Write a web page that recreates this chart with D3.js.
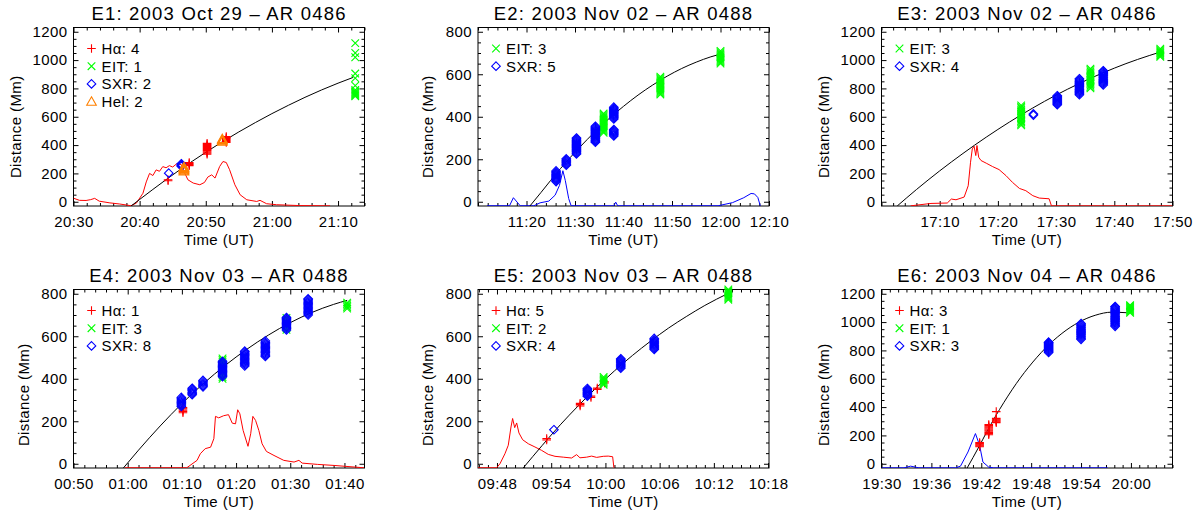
<!DOCTYPE html>
<html>
<head>
<meta charset="utf-8">
<script src="https://cdn.jsdelivr.net/npm/d3@7"></script>
<style>
  html, body { margin: 0; padding: 0; background: #fff; }
  svg text { font-family: "Liberation Sans", Arial, sans-serif; fill: #000; }
  .title { font-size: 18.5px; letter-spacing: 1.2px; }
  .tick text { font-size: 15px; letter-spacing: 0.4px; }
  .axis-title { font-size: 15px; letter-spacing: 0.4px; }
  .legend text { font-size: 15px; letter-spacing: 0.4px; }
</style>
</head>
<body>
<svg id="chart" width="1197" height="514"></svg>
<script>
// ---------- E1 ----------
const e1Title = "E1: 2003 Oct 29 – AR 0486";
const e1XRange = ["20:30", "21:14"];
const e1YRange = [-30, 1230];
const e1Ticks = ["20:30", "20:40", "20:50", "21:00", "21:10"];
const e1Fit = [["20:38.7", -30], ["20:40", 16], ["20:42", 87], ["20:44", 156], ["20:46", 223], ["20:48", 287],
  ["20:50", 349], ["20:52.5", 423], ["20:55", 493], ["20:57.5", 559], ["21:00", 622], ["21:02.5", 681],
  ["21:05", 737], ["21:07.5", 789], ["21:10", 837], ["21:12.3", 878]];
const e1Flux = [["20:30.0", 25], ["20:30.9", 10], ["20:31.9", 9], ["20:32.6", 15], ["20:33.2", 24], ["20:33.9", 4],
  ["20:35.5", -8], ["20:37.0", -16], ["20:38.7", -28], ["20:39.5", -10], ["20:40.5", 60], ["20:41.0", 140],
  ["20:41.5", 200], ["20:42.0", 185], ["20:42.5", 225], ["20:43.0", 215], ["20:43.5", 248], ["20:44.0", 240],
  ["20:44.5", 255], ["20:45.0", 245], ["20:45.6", 268], ["20:46.3", 262], ["20:46.7", 214], ["20:47.3", 155],
  ["20:48.1", 132], ["20:49.1", 120], ["20:49.8", 136], ["20:50.3", 174], ["20:50.9", 190], ["20:51.4", 167],
  ["20:52.1", 249], ["20:52.6", 284], ["20:53.1", 277], ["20:53.6", 226], ["20:54.4", 120], ["20:55.2", 49],
  ["20:56.2", 14], ["20:57.7", 2], ["20:58.2", 10], ["20:59.2", -14], ["21:00.7", -21], ["21:04.2", -27],
  ["21:08.8", -29]];
const e1Halpha = [["20:44.3", [148, 155]], ["20:47.5", [255, 262, 269, 276]],
  ["20:50.2", [335, 342, 349, 356, 363, 370, 377, 384, 391, 398, 405, 412]],
  ["20:53.1", [418, 425, 432, 439, 446, 453, 460]]];
const e1Eit = [["21:12.6", [745, 752, 759, 766, 773, 780, 790, 820, 873, 905, 1020, 1050, 1120]]];
const e1Sxr = [["20:44.4", [202]], ["20:46.3", [250, 256, 262, 268]]];
const e1Hel = [["20:46.7", [215, 221, 227, 233, 239, 245]], ["20:52.5", [425, 431, 437, 443]]];

// ---------- E2 ----------
const e2Title = "E2: 2003 Nov 02 – AR 0488";
const e2XRange = ["11:10", "12:10"];
const e2YRange = [-20, 820];
const e2Ticks = ["11:20", "11:30", "11:40", "11:50", "12:00", "12:10"];
const e2Fit = [["11:20.7", -20], ["11:23", 44], ["11:25", 101], ["11:27", 156], ["11:29", 208], ["11:31", 257],
  ["11:34", 327], ["11:37", 391], ["11:40", 449], ["11:43", 502], ["11:46", 549], ["11:49", 591],
  ["11:52", 627], ["11:55", 657], ["11:58", 682], ["12:00", 695]];
const e2Flux = [["11:11.9", -19], ["11:16.5", -19], ["11:17.3", 19], ["11:18.7", -19], ["11:21.5", -19],
  ["11:22.8", -5], ["11:24.6", 3], ["11:25.9", 31], ["11:26.8", 77], ["11:27.5", 146], ["11:28.0", 100],
  ["11:28.7", 15], ["11:29.2", -19], ["11:38.0", -19], ["11:38.4", -2], ["11:38.8", -19], ["11:59.5", -19],
  ["12:02.5", -4], ["12:04.8", 19], ["12:06.3", 39], ["12:07.0", 37], ["12:07.7", 20], ["12:08.2", -19]];
const e2Eit = [
  ["11:35.9", [325, 331, 337, 343, 349, 355, 361, 367, 373, 379, 385, 391, 397, 403, 409, 415]],
  ["11:47.6", [505, 511, 517, 523, 529, 535, 541, 547, 553, 559, 565, 571, 577, 583, 589]],
  ["12:00.0", [650, 656, 662, 668, 674, 680, 686, 692, 698, 704, 710]]];
const e2Sxr = [
  ["11:26.1", [95, 100, 105, 110, 115, 120, 125, 130, 135, 140, 145]],
  ["11:28.2", [172, 177, 182, 187, 192, 197, 202]],
  ["11:30.3", [225, 230, 235, 240, 245, 250, 255, 260, 265, 270, 275, 280, 285, 290, 295, 300]],
  ["11:34.2", [280, 285, 290, 295, 300, 305, 310, 315, 320, 325, 330, 335, 340, 345, 350, 355]],
  ["11:38.0", [310, 315, 320, 325, 330, 335, 340, 390, 395, 400, 405, 410, 415, 420, 425, 430, 435, 440, 445]]];

// ---------- E3 ----------
const e3Title = "E3: 2003 Nov 02 – AR 0486";
const e3XRange = ["17:00", "17:50"];
const e3YRange = [-30, 1230];
const e3Ticks = ["17:10", "17:20", "17:30", "17:40", "17:50"];
const e3Fit = [["17:02.7", -30], ["17:06", 86], ["17:10", 218], ["17:14", 341], ["17:18", 456], ["17:22", 563],
  ["17:26", 662], ["17:30", 753], ["17:34", 835], ["17:38", 909], ["17:42", 975], ["17:46", 1032], ["17:48", 1058]];
const e3Flux = [["17:05.0", -29], ["17:08.5", -12], ["17:11.3", -9], ["17:12.0", 19], ["17:12.8", 14],
  ["17:14.2", 33], ["17:14.9", 113], ["17:15.3", 279], ["17:15.6", 373], ["17:15.9", 392], ["17:16.2", 326],
  ["17:16.4", 397], ["17:16.7", 314], ["17:17.1", 291], ["17:18.0", 272], ["17:19.1", 248], ["17:20.2", 227],
  ["17:21.4", 184], ["17:22.5", 137], ["17:23.7", 94], ["17:24.8", 78], ["17:26.0", 43], ["17:27.1", 26],
  ["17:28.8", 21], ["17:29.2", -29], ["17:50.0", -29]];
const e3Eit = [
  ["17:24.0", [540, 550, 560, 570, 580, 590, 600, 610, 620, 630, 640, 650, 660, 670, 680]],
  ["17:35.9", [800, 810, 820, 830, 840, 850, 860, 870, 880, 890, 900, 910, 920, 930, 940]],
  ["17:47.9", [1023, 1031, 1039, 1047, 1055, 1063, 1071, 1080]]];
const e3Sxr = [
  ["17:26.1", [612, 620]],
  ["17:30.2", [685, 692, 699, 706, 713, 720, 727, 734, 741, 748]],
  ["17:34.0", [755, 763, 771, 779, 787, 795, 803, 811, 819, 827, 835, 843, 851, 859, 868]],
  ["17:38.1", [825, 833, 841, 849, 857, 865, 873, 881, 889, 897, 905, 913, 921, 925]]];

// ---------- E4 ----------
const e4Title = "E4: 2003 Nov 03 – AR 0488";
const e4XRange = ["00:50", "01:43.7"];
const e4YRange = [-20, 820];
const e4Ticks = ["00:50", "01:00", "01:10", "01:20", "01:30", "01:40"];
const e4Fit = [["00:59.2", -20], ["01:02", 64], ["01:06", 178], ["01:10", 283], ["01:14", 378], ["01:18", 463],
  ["01:22", 539], ["01:26", 606], ["01:30", 664], ["01:34", 712], ["01:38", 750], ["01:40.5", 769]];
const e4Flux = [["00:59.5", -19], ["01:10.9", -19], ["01:12.8", 16], ["01:13.4", 47], ["01:14.3", 71],
  ["01:15.3", 78], ["01:15.9", 118], ["01:16.2", 223], ["01:16.8", 216], ["01:17.7", 226], ["01:18.6", 231],
  ["01:19.3", 191], ["01:19.9", 188], ["01:20.3", 254], ["01:20.7", 235], ["01:21.3", 157], ["01:22.2", 82],
  ["01:22.7", 141], ["01:23.1", 223], ["01:23.6", 204], ["01:24.2", 157], ["01:24.8", 94], ["01:25.6", 58],
  ["01:27.0", 39], ["01:28.8", 16], ["01:30.7", 8], ["01:31.6", 16], ["01:32.2", 3], ["01:35.0", -3],
  ["01:38.1", -8], ["01:43.6", -19]];
const e4Halpha = [["01:10.2", [240, 246, 252, 258, 264]]];
const e4Eit = [
  ["01:17.5", [400, 408, 416, 424, 432, 440, 448, 456, 464, 472, 480, 488, 496]],
  ["01:29.3", [630, 638, 646, 654, 662, 670, 678, 686]],
  ["01:40.5", [730, 737, 744, 751, 758]]];
const e4Sxr = [
  ["01:09.9", [270, 276, 282, 288, 294, 300, 306, 312]],
  ["01:11.9", [325, 331, 337, 343, 349, 355]],
  ["01:13.9", [362, 368, 374, 380, 386, 392]],
  ["01:17.5", [410, 416, 422, 428, 434, 440, 446, 452, 458, 464, 470, 476, 482]],
  ["01:21.6", [460, 466, 472, 478, 484, 490, 496, 502, 508, 514, 520, 526, 530]],
  ["01:25.4", [505, 511, 517, 523, 529, 535, 541, 547, 553, 559, 565, 571, 578]],
  ["01:29.3", [630, 636, 642, 648, 654, 660, 666, 672, 678, 684, 688]],
  ["01:33.3", [700, 706, 712, 718, 724, 730, 736, 742, 748, 754, 760, 766, 772, 776]]];

// ---------- E5 ----------
const e5Title = "E5: 2003 Nov 03 – AR 0488";
const e5XRange = ["09:45.9", "10:18.1"];
const e5YRange = [-20, 820];
const e5Ticks = ["09:48", "09:54", "10:00", "10:06", "10:12", "10:18"];
const e5Fit = [["09:50.9", -20], ["09:53", 86], ["09:55", 183], ["09:57", 273], ["09:59", 358], ["10:01", 437],
  ["10:03", 510], ["10:05", 577], ["10:07", 639], ["10:09", 694], ["10:11", 745], ["10:13.6", 802]];
const e5Flux = [["09:45.9", -19], ["09:47.96", -19], ["09:48.33", 0], ["09:48.88", 47], ["09:49.25", 87],
  ["09:49.55", 173], ["09:49.73", 213], ["09:49.96", 170], ["09:50.18", 192], ["09:50.43", 145],
  ["09:50.84", 113], ["09:51.47", 94], ["09:52.2", 79], ["09:52.94", 63], ["09:53.68", 44], ["09:54.42", 35],
  ["09:55.34", 31], ["09:56.26", 27], ["09:56.81", 43], ["09:57.18", 28], ["09:57.92", 31], ["09:58.47", 36],
  ["09:59.03", 30], ["09:59.76", 35], ["10:00.31", 36], ["10:00.8", 33], ["10:00.94", -19]];
const e5Halpha = [["09:53.5", [112, 118]], ["09:57.2", [272, 278, 284]], ["09:58.4", [312, 318]],
  ["09:59.1", [350, 356]], ["09:59.9", [380, 386]]];
const e5Eit = [["09:59.8", [372, 378, 384, 390, 396, 402, 408]],
  ["10:13.6", [772, 778, 784, 790, 796, 802, 808, 814, 820]]];
const e5Sxr = [["09:54.3", [160]],
  ["09:58.0", [318, 323, 328, 333, 338, 343, 348, 354]],
  ["10:01.7", [450, 455, 460, 465, 470, 475, 480, 485, 490, 494]],
  ["10:05.4", [538, 543, 548, 553, 558, 563, 568, 573, 578, 583, 590]]];

// ---------- E6 ----------
const e6Title = "E6: 2003 Nov 04 – AR 0486";
const e6XRange = ["19:30", "20:05"];
const e6YRange = [-30, 1230];
const e6Ticks = ["19:30", "19:36", "19:42", "19:48", "19:54", "20:00"];
const e6Fit = [["19:40.3", -30], ["19:41.7", 118], ["19:42.7", 229], ["19:43.7", 334], ["19:44.7", 431],
  ["19:45.7", 522], ["19:46.7", 606], ["19:47.7", 682], ["19:49.7", 815], ["19:51.7", 920], ["19:53.7", 998],
  ["19:55.7", 1048], ["19:57.7", 1070], ["19:59.5", 1066]];
const e6Flux = [["19:30.0", -29], ["19:32.7", -29], ["19:33.5", -17], ["19:34.5", -29], ["19:38.9", -29],
  ["19:39.5", -17], ["19:40.4", 83], ["19:41.3", 213], ["19:41.8", 130], ["19:42.2", 12], ["19:42.9", -24],
  ["19:43.5", -29], ["19:57.2", -29]];
const e6Halpha = [["19:41.8", [120, 126, 132, 138, 144, 150]],
  ["19:42.9", [205, 213, 221, 229, 237, 245, 253, 261, 269, 277]],
  ["19:43.8", [290, 296, 302, 308, 314, 320, 368]]];
const e6Eit = [["19:59.9", [1065, 1072, 1079, 1086, 1093, 1100, 1107, 1114, 1120]]];
const e6Sxr = [
  ["19:50.1", [785, 792, 799, 806, 813, 820, 827, 834, 841, 848, 855, 858]],
  ["19:54.0", [878, 886, 894, 902, 910, 918, 926, 934, 942, 950, 958, 966, 974, 982, 990]],
  ["19:58.1", [970, 978, 986, 994, 1002, 1010, 1018, 1026, 1034, 1042, 1050, 1058, 1066, 1074, 1082, 1090, 1098, 1106, 1110]]];

// Panel table assembled from the arrays above
const panels = [
  { title: e1Title, xr: e1XRange, yr: e1YRange, ticks: e1Ticks, minor: 2, fit: e1Fit, flux: e1Flux, fluxColor: "#ff0000",
    series: [["Hα", e1Halpha], ["EIT", e1Eit], ["SXR", e1Sxr], ["Hel", e1Hel]] },
  { title: e2Title, xr: e2XRange, yr: e2YRange, ticks: e2Ticks, minor: 2, fit: e2Fit, flux: e2Flux, fluxColor: "#0000ff",
    series: [["EIT", e2Eit], ["SXR", e2Sxr]] },
  { title: e3Title, xr: e3XRange, yr: e3YRange, ticks: e3Ticks, minor: 2, fit: e3Fit, flux: e3Flux, fluxColor: "#ff0000",
    series: [["EIT", e3Eit], ["SXR", e3Sxr]] },
  { title: e4Title, xr: e4XRange, yr: e4YRange, ticks: e4Ticks, minor: 2, fit: e4Fit, flux: e4Flux, fluxColor: "#ff0000",
    series: [["Hα", e4Halpha], ["EIT", e4Eit], ["SXR", e4Sxr]] },
  { title: e5Title, xr: e5XRange, yr: e5YRange, ticks: e5Ticks, minor: 1, fit: e5Fit, flux: e5Flux, fluxColor: "#ff0000",
    series: [["Hα", e5Halpha], ["EIT", e5Eit], ["SXR", e5Sxr]] },
  { title: e6Title, xr: e6XRange, yr: e6YRange, ticks: e6Ticks, minor: 1, fit: e6Fit, flux: e6Flux, fluxColor: "#0000ff",
    series: [["Hα", e6Halpha], ["EIT", e6Eit], ["SXR", e6Sxr]] }
];

// Marker styles per instrument
const markerStyle = {
  "Hα":  { color: "#ff0000", shape: s => `M${-s},0H${s}M0,${-s}V${s}`, size: 4.3 },
  "EIT": { color: "#00ff00", shape: s => `M${-s},${-s}L${s},${s}M${-s},${s}L${s},${-s}`, size: 3.8 },
  "SXR": { color: "#0000ff", shape: s => `M0,${-s}L${s},0L0,${s}L${-s},0Z`, size: 4.3 },
  "Hel": { color: "#ff8000", shape: s => `M0,${-s}L${s},${s * 0.75}L${-s},${s * 0.75}Z`, size: 4.8 }
};

// "HH:MM.m" -> minutes of the day
const parseT = s => { const [h, m] = s.split(":"); return +h * 60 + +m; };

const svg = d3.select("#chart");
const W = 291, H = 178.5;
const lefts = [73.5, 478, 881.5], tops = [27.5, 289.5];

panels.forEach((p, i) => {
  const left = lefts[i % 3], top = tops[Math.floor(i / 3)];
  const row = Math.floor(i / 3);
  const g = svg.append("g").attr("transform", `translate(${left},${top})`);

  const x = d3.scaleLinear().domain(p.xr.map(parseT)).range([0, W]);
  const y = d3.scaleLinear().domain(p.yr).range([H, 0]);

  const clipId = "clip" + i;
  svg.append("defs").append("clipPath").attr("id", clipId)
    .append("rect").attr("x", 0).attr("y", 0).attr("width", W).attr("height", H);

  // frame
  g.append("rect").attr("x", 0).attr("y", 0).attr("width", W).attr("height", H)
    .attr("fill", "none").attr("stroke", "#000").attr("stroke-width", 1);

  // x ticks (major + minor), bottom and top
  const [x0, x1] = x.domain();
  const major = p.ticks.map(parseT);
  const minor = d3.range(Math.ceil(x0 / p.minor) * p.minor, x1 + 1e-6, p.minor)
    .filter(v => !major.some(m => Math.abs(m - v) < 1e-6));
  const fmt = (d) => { const k = major.findIndex(m => Math.abs(m - d) < 1e-6); return k >= 0 ? p.ticks[k] : ""; };

  g.append("g").attr("transform", `translate(0,${H})`)
    .call(d3.axisBottom(x).tickValues(major).tickFormat(fmt).tickSizeInner(-5).tickSizeOuter(0).tickPadding(10));
  g.append("g").attr("transform", `translate(0,${H})`)
    .call(d3.axisBottom(x).tickValues(minor).tickFormat("").tickSizeInner(-3).tickSizeOuter(0));
  g.append("g").call(d3.axisTop(x).tickValues(major).tickFormat("").tickSizeInner(-5).tickSizeOuter(0));
  g.append("g").call(d3.axisTop(x).tickValues(minor).tickFormat("").tickSizeInner(-3).tickSizeOuter(0));

  // y ticks (major every 200, minor every 50), left and right
  const [y0, y1] = p.yr;
  const yMajor = d3.range(0, y1 + 1e-6, 200);
  const yMinor = d3.range(Math.ceil(y0 / 50) * 50, y1 + 1e-6, 50).filter(v => v % 200 !== 0);
  g.append("g").call(d3.axisLeft(y).tickValues(yMajor).tickFormat(d3.format("d")).tickSizeInner(-5).tickSizeOuter(0).tickPadding(6));
  g.append("g").call(d3.axisLeft(y).tickValues(yMinor).tickFormat("").tickSizeInner(-3).tickSizeOuter(0));
  g.append("g").attr("transform", `translate(${W},0)`)
    .call(d3.axisRight(y).tickValues(yMajor).tickFormat("").tickSizeInner(-5).tickSizeOuter(0));
  g.append("g").attr("transform", `translate(${W},0)`)
    .call(d3.axisRight(y).tickValues(yMinor).tickFormat("").tickSizeInner(-3).tickSizeOuter(0));

  g.selectAll(".domain").remove();
  g.selectAll(".tick line").attr("stroke", "#000");
  g.selectAll("g").attr("font-family", null).attr("font-size", null);

  // light curve
  g.append("path").datum(p.flux)
    .attr("d", d3.line().x(d => x(parseT(d[0]))).y(d => y(d[1])))
    .attr("fill", "none").attr("stroke", p.fluxColor).attr("stroke-width", 1)
    .attr("clip-path", `url(#${clipId})`);

  // fitted height-time curve
  g.append("path").datum(p.fit)
    .attr("d", d3.line().curve(d3.curveMonotoneX).x(d => x(parseT(d[0]))).y(d => y(d[1])))
    .attr("fill", "none").attr("stroke", "#000").attr("stroke-width", 1)
    .attr("clip-path", `url(#${clipId})`);

  // measurements
  p.series.forEach(([name, data]) => {
    const st = markerStyle[name];
    const pts = data.flatMap(([t, vals]) => vals.map(v => [parseT(t), v]));
    g.append("g").selectAll("path").data(pts).join("path")
      .attr("transform", d => `translate(${x(d[0])},${y(d[1])})`)
      .attr("d", st.shape(st.size))
      .attr("fill", "none").attr("stroke", st.color).attr("stroke-width", 1.1);
  });

  // legend
  const leg = g.append("g").attr("class", "legend");
  p.series.forEach(([name, data], k) => {
    const st = markerStyle[name];
    const ly = 21 + k * 17.7;
    leg.append("path").attr("transform", `translate(18,${ly})`).attr("d", st.shape(st.size))
      .attr("fill", "none").attr("stroke", st.color).attr("stroke-width", 1.1);
    leg.append("text").attr("x", 28).attr("y", ly + 5.4).text(`${name}: ${data.length}`);
  });

  // titles
  svg.append("text").attr("class", "title").attr("x", left + W / 2).attr("y", top - 7.5)
    .attr("text-anchor", "middle").text(p.title);
  svg.append("text").attr("class", "axis-title").attr("x", left + W / 2).attr("y", top + H + 39)
    .attr("text-anchor", "middle").text("Time (UT)");
  const yOff = y1 > 1000 ? 58 : 50;
  const cy = top + H / 2 + (row === 0 ? 10 : 16);
  svg.append("text").attr("class", "axis-title")
    .attr("transform", `translate(${left - yOff},${cy}) rotate(-90)`)
    .attr("text-anchor", "middle").attr("dy", "0.35em").text("Distance (Mm)");
});
</script>
</body>
</html>
